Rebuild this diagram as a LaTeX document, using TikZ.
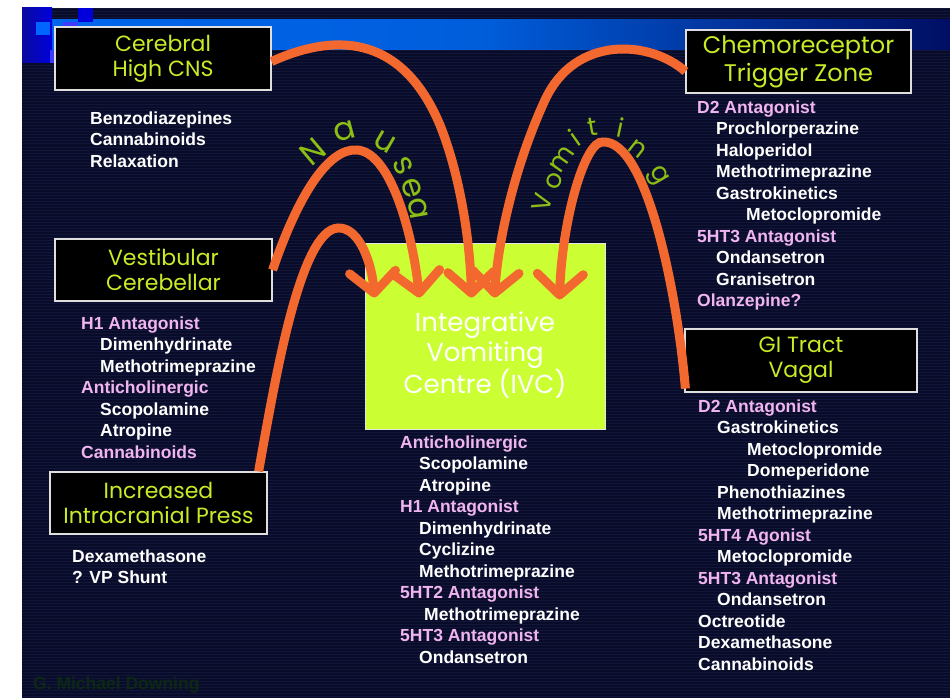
\documentclass[tikz,border=0pt]{standalone}
\usepackage{fontspec}
\setmainfont{Liberation Sans}
\newfontfamily\boxfont{Poppins}
\usetikzlibrary{arrows.meta,positioning,calc}
\definecolor{navybg}{RGB}{9,12,40}
\definecolor{navyln}{RGB}{18,22,58}
\definecolor{bandhi}{RGB}{0,102,238}
\definecolor{bandlo}{RGB}{0,14,100}
\definecolor{sqdark}{RGB}{10,10,160}
\definecolor{sqblue}{RGB}{0,0,220}
\definecolor{sqlight}{RGB}{0,102,255}
\definecolor{sqmid}{RGB}{60,60,250}
\definecolor{limetxt}{RGB}{200,235,40}
\definecolor{limebox}{RGB}{204,255,51}
\definecolor{nvgreen}{RGB}{140,190,20}
\definecolor{nvorange}{RGB}{242,104,46}
\definecolor{drugpink}{RGB}{240,180,240}
\definecolor{signgreen}{RGB}{12,40,20}
\newcommand{\hd}[1]{\textcolor{drugpink}{#1}}
\newcommand{\ia}{\hspace*{19pt}}
\newcommand{\ib}{\hspace*{49pt}}
\tikzset{
  site/.style={draw=gray!25, line width=1.2pt, fill=black, text=limetxt, align=center,
               inner sep=0pt, font=\boxfont\fontsize{22}{25}\selectfont},
  hub/.style={draw=gray!20, line width=1pt, fill=limebox, minimum width=240pt, minimum height=186pt},
  hubtxt/.style={text=white, align=center, inner sep=0pt, font=\boxfont\fontsize{26}{30}\selectfont},
  drugs/.style={anchor=north west, inner sep=0pt, align=left, text=white,
                font=\bfseries\fontsize{17.5}{21.5}\selectfont},
  nvarr/.style={nvorange, line width=9pt, -{Straight Barb[round,length=21pt,width=46pt]}},
  nvlet/.style={text=nvgreen, inner sep=0pt, font=\boxfont\fontsize{32}{32}\selectfont},
  sign/.style={anchor=west, inner sep=0pt, text=signgreen, font=\bfseries\fontsize{17.5}{20}\selectfont},
}

\begin{document}
\begin{tikzpicture}[x=1pt, y=-1pt]
  \useasboundingbox (0,0) rectangle (950,698);
  \fill[white] (0,0) rectangle (950,698);
  % slide background
  \fill[navybg] (22,8) rectangle (950,698);
  \foreach \yy in {9,12,...,696}
    \draw[navyln, line width=1pt] (22,\yy) -- (950,\yy);
  \shade[left color=bandhi, right color=bandhi!92!black] (28,20) rectangle (480,50);
  \shade[left color=bandhi!92!black, right color=bandlo] (480,20) rectangle (950,50);
  \shade[left color=sqdark, right color=sqblue] (22,8) rectangle (52,63);
  \fill[sqblue] (78,8) rectangle (93,22);
  \fill[sqlight] (36,22) rectangle (50,35);
  \fill[sqmid] (50,50) rectangle (56,63);
  \fill[sqmid] (63,22) rectangle (78,27);

  % centre
  \node[hub] (ivc) at (485,336) {};
  \node[hubtxt] (ivctxt) at (485,355) {Integrative\\Vomiting\\Centre (IVC)};

  % input sites
  \node[site, minimum width=216pt, minimum height=63pt] (cns) at (163,58.5) {Cerebral\\High CNS};
  \node[site, minimum width=217pt, minimum height=62pt] (vest) at (163.5,270) {Vestibular\\Cerebellar};
  \node[site, minimum width=217pt, minimum height=62pt] (icp) at (158.5,503) {Increased\\Intracranial Press};
  \node[site, minimum width=225pt, minimum height=63pt, font=\boxfont\fontsize{24}{28}\selectfont]
    (ctz) at (798.5,61.5) {Chemoreceptor\\Trigger Zone};
  \node[site, minimum width=232pt, minimum height=63pt] (gi) at (801,360.5) {GI Tract\\Vagal};

  % pathways
  \draw[nvarr] ($(icp.north east)+(-9,0)$) .. controls (275,380) and (300,230) .. (338,228)
    .. controls (360,227) and (372,265) .. ($(ivc.north west)+(10,55)$);
  \draw[nvarr] (vest.east) .. controls (300,190) and (330,148) .. (357,150)
    .. controls (390,152) and (412,230) .. ($(ivc.north west)+(55,55)$);
  \draw[nvarr] ($(cns.east)+(0,3)$) .. controls (330,35) and (400,30) .. (440,125)
    .. controls (460,175) and (470,240) .. ($(ivc.north west)+(107,55)$);
  \draw[nvarr] ($(ctz.west)+(0,10)$) .. controls (650,40) and (575,35) .. (545,100)
    .. controls (515,165) and (498,240) .. ($(ivc.north west)+(130,55)$);
  \draw[nvarr] ($(gi.south west)+(1,-4)$) .. controls (678,300) and (648,140) .. (603,142)
    .. controls (585,140) and (562,220) .. ($(ivc.north west)+(195,57)$);

  % arc lettering
  \foreach \ch/\px/\py/\rot [count=\k] in
    {N/313/152/40, a/345/131/15, u/385/142/-30, s/403/166/-62, e/412/188/-72, a/418/209/-80}
    \node[nvlet, rotate=\rot] (nau\k) at (\px,\py) {\ch};
  \foreach \ch/\px/\py/\rot [count=\k] in
    {V/542/203/74, o/554/181/66, m/562/159/55, i/574/138/35, t/593/127/10,
     i/621/127/-12, n/638/149/-38, g/657/176/-60}
    \node[nvlet, rotate=\rot, font=\boxfont\fontsize{26}{26}\selectfont] (vom\k) at (\px,\py) {\ch};

  % drug lists
  \node[drugs] (cnsdrug) at (90,111.5) {Benzodiazepines\\Cannabinoids\\Relaxation};
  \node[drugs] (vestdrug) at (81,316.5) {\hd{H1 Antagonist}\\\ia Dimenhydrinate\\\ia Methotrimeprazine\\
    \hd{Anticholinergic}\\\ia Scopolamine\\\ia Atropine\\\hd{Cannabinoids}};
  \node[drugs] (icpdrug) at (72,549.5) {Dexamethasone\\? VP Shunt};
  \node[drugs] (ivcdrug) at (400,435.5) {\hd{Anticholinergic}\\\ia Scopolamine\\\ia Atropine\\
    \hd{H1 Antagonist}\\\ia Dimenhydrinate\\\ia Cyclizine\\\ia Methotrimeprazine\\
    \hd{5HT2 Antagonist}\\\hspace*{24pt}Methotrimeprazine\\\hd{5HT3 Antagonist}\\\ia Ondansetron};
  \node[drugs] (ctzdrug) at (697,100.5) {\hd{D2 Antagonist}\\\ia Prochlorperazine\\\ia Haloperidol\\
    \ia Methotrimeprazine\\\ia Gastrokinetics\\\ib Metoclopromide\\\hd{5HT3 Antagonist}\\
    \ia Ondansetron\\\ia Granisetron\\\hd{Olanzepine?}};
  \node[drugs] (gidrug) at (698,399.5) {\hd{D2 Antagonist}\\\ia Gastrokinetics\\\ib Metoclopromide\\
    \ib Domeperidone\\\ia Phenothiazines\\\ia Methotrimeprazine\\\hd{5HT4 Agonist}\\
    \ia Metoclopromide\\\hd{5HT3 Antagonist}\\\ia Ondansetron\\Octreotide\\Dexamethasone\\Cannabinoids};

  \node[sign] (credit) at (33,685) {G. Michael Downing};
\end{tikzpicture}
\end{document}
